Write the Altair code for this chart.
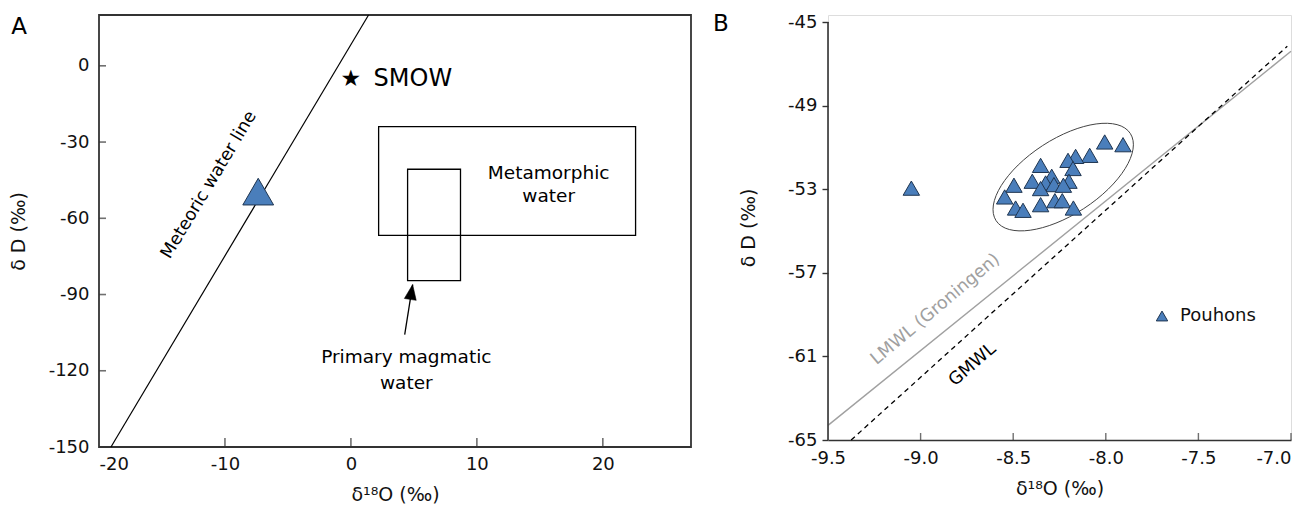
import altair as alt
import pandas as pd

FONT = "DejaVu Sans"
BLUE = "#4a7ebb"
EDGE = "#1f3550"
AXC = "#333333"

# ---------------- Panel A data ----------------
a_x_ticks = [-20, -10, 0, 10, 20]
a_y_ticks = [-150, -120, -90, -60, -30, 0]
a_inner_xticks = [-10, 0, 10, 20]
a_inner_yticks = [-120, -90, -60, -30, 0]
mwl_o18 = [-19.05, 1.4]
mwl_dD = [-150, 20]
a_sample_o18 = [-7.36]
a_sample_dD = [-49.5]
smow_o18 = [0.0]
smow_dD = [-5.0]
box_names = ["Metamorphic", "Magmatic"]
box_o18_lo = [2.2, 4.5]
box_o18_hi = [22.6, 8.7]
box_dD_lo = [-66.7, -84.5]
box_dD_hi = [-23.9, -40.7]
arrow_o18 = [4.27, 4.90]
arrow_dD = [-105.8, -86.1]

# ---------------- Panel B data ----------------
b_x_ticks = [-9.5, -9.0, -8.5, -8.0, -7.5, -7.0]
b_inner_xticks = [-9.0, -8.5, -8.0, -7.5, -7.0]
b_y_ticks = [-65, -61, -57, -53, -49, -45]
pouhons_o18 = [-9.05, -8.006, -7.907, -8.087, -8.163, -8.204, -8.177, -8.352,
               -8.292, -8.199, -8.397, -8.325, -8.28, -8.229, -8.496, -8.352,
               -8.546, -8.487, -8.447, -8.352, -8.275, -8.235, -8.175]
pouhons_dD = [-52.95, -50.74, -50.87, -51.38, -51.43, -51.62, -52.01, -51.86,
              -52.38, -52.62, -52.62, -52.70, -52.78, -52.81, -52.81, -52.97,
              -53.37, -53.90, -54.01, -53.74, -53.55, -53.55, -53.90]
gmwl_o18 = [-9.375, -7.02]
gmwl_dD = [-65.0, -46.16]
lmwl_o18 = [-9.5, -7.0]
lmwl_dD = [-64.3, -46.4]
ellipse_o18 = [-8.23]
ellipse_dD = [-52.42]

HYPHEN = "replace(datum.label, '\u2212', '-')"

# ---------------- Panel A ----------------
AW, AH = 592, 432
ax = alt.X("x:Q", scale=alt.Scale(domain=[-20, 27], nice=False, zero=False),
           axis=alt.Axis(values=a_x_ticks, title="δ¹⁸O (‰)", ticks=False, tickSize=0,
                         labelExpr=HYPHEN,
                         labelPadding=8, titlePadding=12, grid=False, domain=False,
                         labelFontSize=18, titleFontSize=19, labelColor="#111",
                         titleColor="#111", labelFont=FONT, titleFont=FONT,
                         titleFontWeight="normal"))
ay = alt.Y("y:Q", scale=alt.Scale(domain=[-150, 20], nice=False, zero=False),
           axis=alt.Axis(values=a_y_ticks, title="δ D (‰)", ticks=False, tickSize=0,
                         labelExpr=HYPHEN,
                         labelPadding=10, titlePadding=20, grid=False, domain=False,
                         labelFontSize=18, titleFontSize=19, labelColor="#111",
                         titleColor="#111", labelFont=FONT, titleFont=FONT,
                         titleFontWeight="normal"))

mwl = alt.Chart(pd.DataFrame({"x": mwl_o18, "y": mwl_dD})).mark_line(
    color="black", strokeWidth=1.2).encode(x=ax, y=ay)

boxes = alt.Chart(pd.DataFrame({"name": box_names, "x": box_o18_lo, "x2": box_o18_hi,
                                "y": box_dD_lo, "y2": box_dD_hi})).mark_rect(
    fill=None, fillOpacity=0, stroke="black", strokeWidth=1.3).encode(
    x="x:Q", x2="x2:Q", y="y:Q", y2="y2:Q")

a_tri = alt.Chart(pd.DataFrame({"x": a_sample_o18, "y": a_sample_dD})).mark_point(
    shape="triangle-up", size=950, filled=True, fill=BLUE, stroke=EDGE,
    strokeWidth=1, opacity=1).encode(x="x:Q", y="y:Q")

smow_star = alt.Chart(pd.DataFrame({"x": smow_o18, "y": smow_dD, "t": ["★"]})).mark_text(
    fontSize=23, font=FONT, color="black", align="center", baseline="middle").encode(
    x="x:Q", y="y:Q", text="t:N")
smow_lbl = alt.Chart(pd.DataFrame({"x": [1.8], "y": [-5.0], "t": ["SMOW"]})).mark_text(
    fontSize=24, font=FONT, color="black", align="left", baseline="middle").encode(
    x="x:Q", y="y:Q", text="t:N")

meta_lbl = alt.Chart(pd.DataFrame({"x": [15.7, 15.7], "y": [-42.1, -51.3],
                                   "t": ["Metamorphic", "water"]})).mark_text(
    fontSize=18.5, font=FONT, color="black", align="center", baseline="middle").encode(
    x="x:Q", y="y:Q", text="t:N")
magma_lbl = alt.Chart(pd.DataFrame({"x": [4.4, 4.4], "y": [-114.4, -124.7],
                                    "t": ["Primary magmatic", "water"]})).mark_text(
    fontSize=18.5, font=FONT, color="black", align="center", baseline="middle").encode(
    x="x:Q", y="y:Q", text="t:N")
mwl_lbl = alt.Chart(pd.DataFrame({"x": [-11.27], "y": [-46.9],
                                  "t": ["Meteoric water line"]})).mark_text(
    fontSize=17.5, font=FONT, color="black", angle=301, align="center",
    baseline="middle").encode(x="x:Q", y="y:Q", text="t:N")

arrow_shaft = alt.Chart(pd.DataFrame({"x": arrow_o18, "y": arrow_dD})).mark_line(
    color="black", strokeWidth=1.3).encode(x="x:Q", y="y:Q")
arrow_head = alt.Chart(pd.DataFrame({"x": [arrow_o18[1]], "y": [arrow_dD[1]]})).mark_point(
    shape="M 0 0 L 0.8 2 L -0.8 2 Z", size=225, filled=True, fill="black",
    stroke="black", strokeWidth=0.5, angle=9, opacity=1).encode(x="x:Q", y="y:Q")

a_xt = alt.Chart(pd.DataFrame({"x": a_inner_xticks})).mark_tick(
    orient="vertical", size=9, thickness=1.6, color=AXC, yOffset=-4.5).encode(
    x="x:Q", y=alt.datum(-150))
a_yt = alt.Chart(pd.DataFrame({"y": a_inner_yticks})).mark_tick(
    orient="horizontal", size=7, thickness=1.6, color=AXC, xOffset=3.5).encode(
    y="y:Q", x=alt.datum(-20))

a_letter = alt.Chart(pd.DataFrame({"t": ["A"]})).mark_text(
    fontSize=23, font=FONT, color="black", align="center", baseline="middle").encode(
    x=alt.value(-80), y=alt.value(12), text="t:N")

panelA = alt.layer(mwl, boxes, a_tri, smow_star, smow_lbl, meta_lbl, magma_lbl,
                   mwl_lbl, arrow_shaft, arrow_head, a_xt, a_yt, a_letter).properties(
    width=AW, height=AH,
    view=alt.ViewBackground(stroke=AXC, strokeWidth=1.8))

# ---------------- Panel B ----------------
BW, BH = 463, 425
bx = alt.X("x:Q", scale=alt.Scale(domain=[-9.5, -7.0], nice=False, zero=False),
           axis=alt.Axis(values=b_x_ticks, title="δ¹⁸O (‰)", ticks=False,
                         labelExpr="replace(format(datum.value, '.1f'), '\u2212', '-')",
                         labelAlign={"condition": {"test": "datum.value > -7.05",
                                                   "value": "right"},
                                     "value": "center"},
                         tickSize=0, labelPadding=9, titlePadding=12, grid=False,
                         domainColor=AXC, domainWidth=1.6,
                         labelFontSize=18, titleFontSize=19, labelColor="#111",
                         titleColor="#111", labelFont=FONT, titleFont=FONT,
                         titleFontWeight="normal"))
by = alt.Y("y:Q", scale=alt.Scale(domain=[-65, -44.665], nice=False, zero=False),
           axis=alt.Axis(values=b_y_ticks, title="δ D (‰)", ticks=True, tickSize=6,
                         tickColor=AXC, tickWidth=1.4, labelExpr=HYPHEN,
                         labelPadding=5, titlePadding=29, grid=False, domain=False,
                         labelFontSize=18, titleFontSize=19, labelColor="#111",
                         titleColor="#111", labelFont=FONT, titleFont=FONT,
                         titleFontWeight="normal"))

lmwl = alt.Chart(pd.DataFrame({"x": lmwl_o18, "y": lmwl_dD})).mark_line(
    color="#a0a0a0", strokeWidth=1.4).encode(x=bx, y=by)
gmwl = alt.Chart(pd.DataFrame({"x": gmwl_o18, "y": gmwl_dD})).mark_line(
    color="black", strokeWidth=1.3, strokeDash=[5, 4]).encode(x="x:Q", y="y:Q")

b_yline = alt.Chart(pd.DataFrame({"x": [-9.5], "y": [-65], "y2": [-45]})).mark_rule(
    color=AXC, strokeWidth=1.6).encode(x="x:Q", y="y:Q", y2="y2:Q")

ellipse = alt.Chart(pd.DataFrame({"x": ellipse_o18, "y": ellipse_dD})).mark_point(
    shape="M -0.839 0.545 A 1 0.47 -33 1 1 0.839 -0.545 A 1 0.47 -33 1 1 -0.839 0.545 Z",
    size=25600, filled=False, stroke="#444444", strokeWidth=1, opacity=1).encode(
    x="x:Q", y="y:Q")

pts = alt.Chart(pd.DataFrame({"x": pouhons_o18, "y": pouhons_dD,
                              "s": ["Pouhons"] * len(pouhons_o18)})).mark_point(
    shape="triangle-up", size=270, filled=True, stroke=EDGE, strokeWidth=1,
    opacity=1).encode(
    x="x:Q", y="y:Q",
    color=alt.Color("s:N", scale=alt.Scale(domain=["Pouhons"], range=[BLUE]),
                    legend=alt.Legend(title=None, orient="none", legendX=1054,
                                      legendY=292, symbolType="triangle-up",
                                      symbolSize=130, symbolFillColor=BLUE,
                                      symbolStrokeColor=EDGE, symbolStrokeWidth=1,
                                      labelFontSize=18, labelFont=FONT,
                                      labelColor="#111", labelOffset=9)))

lmwl_lbl = alt.Chart(pd.DataFrame({"x": [-8.92], "y": [-58.75],
                                   "t": ["LMWL (Groningen)"]})).mark_text(
    fontSize=17.5, font=FONT, color="#a0a0a0", angle=320, align="center",
    baseline="middle").encode(x="x:Q", y="y:Q", text="t:N")
gmwl_lbl = alt.Chart(pd.DataFrame({"x": [-8.72], "y": [-61.4],
                                   "t": ["GMWL"]})).mark_text(
    fontSize=17.5, font=FONT, color="black", angle=319, align="center",
    baseline="middle").encode(x="x:Q", y="y:Q", text="t:N")

b_xt = alt.Chart(pd.DataFrame({"x": b_inner_xticks})).mark_tick(
    orient="vertical", size=7, thickness=1.4, color=AXC, yOffset=-3.5).encode(
    x="x:Q", y=alt.datum(-65))

b_letter = alt.Chart(pd.DataFrame({"t": ["B"]})).mark_text(
    fontSize=23, font=FONT, color="black", align="center", baseline="middle").encode(
    x=alt.value(-107), y=alt.value(9), text="t:N")

panelB = alt.layer(lmwl, gmwl, b_yline, ellipse, pts, lmwl_lbl, gmwl_lbl, b_xt,
                   b_letter).properties(width=BW, height=BH)

chart = alt.hconcat(panelA, panelB, spacing=20).properties(
    padding={"left": 0, "top": 3, "right": 0, "bottom": 0}
).configure_view(stroke=None).configure(background="white")

chart.save("out.html", embed_options={"renderer": "svg", "actions": False})
